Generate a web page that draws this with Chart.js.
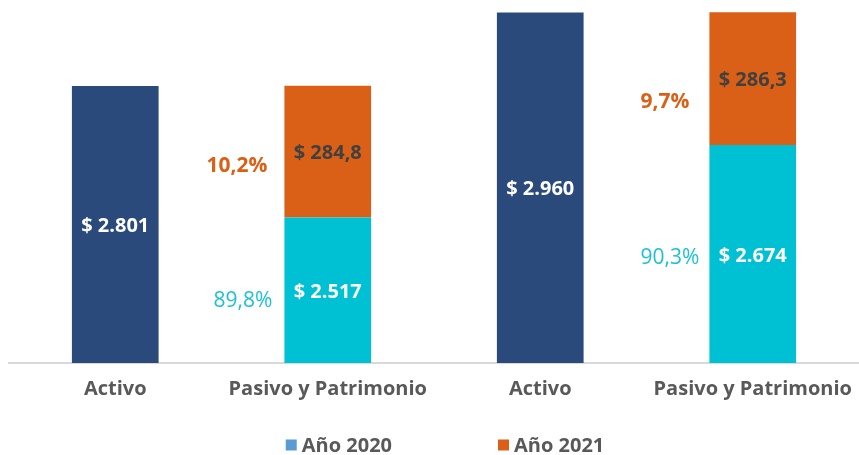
<!DOCTYPE html>
<html>
<head>
<meta charset="utf-8">
<script src="https://cdn.jsdelivr.net/npm/chart.js@4"></script>
<style>
  html, body { margin: 0; padding: 0; background: #ffffff; }
  canvas { display: block; }
</style>
</head>
<body>
<canvas id="balanceChart" width="859" height="455"></canvas>
<script>
// data
var categories = ["Activo", "Pasivo y Patrimonio", "Activo", "Pasivo y Patrimonio"];
var seriesNames = ["Año 2020", "Año 2021"];
var values2020 = [2801, 2517, 2960, 2674];
var values2021 = [null, 284.8, null, 286.3];
var pct2020 = [null, 89.8, null, 90.3];
var pct2021 = [null, 10.2, null, 9.7];

var NAVY = "#2b4a7c";
var CYAN = "#00c1d4";
var ORANGE = "#d96016";
var GREY = "#595959";
var FONT = "'Open Sans', sans-serif";

var barColors2020 = [NAVY, CYAN, NAVY, CYAN];
var legendColors = ["#5b9bd5", ORANGE];

// nudges for the percentage labels (px), same order as the bars
var pctNudge2020 = [null, { gap: 12, dy: 9 }, null, { gap: 10, dy: 2 }];
var pctNudge2021 = [null, { gap: 17, dy: 12 }, null, { gap: 20, dy: 21 }];

function fmtMoney(v) {
  if (v >= 1000) {
    return "$ " + Math.floor(v / 1000) + "." + String(Math.round(v % 1000)).padStart(3, "0");
  }
  return "$ " + v.toFixed(1).replace(".", ",");
}
function fmtPct(v) {
  return v.toFixed(1).replace(".", ",") + "%";
}

var labelsPlugin = {
  id: "barLabels",
  afterDatasetsDraw: function (chart) {
    var ctx = chart.ctx;
    var area = chart.chartArea;
    ctx.save();
    ctx.textBaseline = "middle";
    chart.data.datasets.forEach(function (ds, di) {
      var meta = chart.getDatasetMeta(di);
      meta.data.forEach(function (bar, i) {
        var v = ds.data[i];
        if (v == null) return;
        var top = Math.max(Math.min(bar.y, bar.base), area.top);
        var bottom = Math.min(Math.max(bar.y, bar.base), area.bottom);
        var mid = (top + bottom) / 2 + 2;
        ctx.font = "bold 20px " + FONT;
        ctx.textAlign = "center";
        ctx.fillStyle = di === 0 ? "#ffffff" : "#404040";
        ctx.fillText(fmtMoney(v), bar.x, mid);

        var pct = di === 0 ? pct2020[i] : pct2021[i];
        var nudge = di === 0 ? pctNudge2020[i] : pctNudge2021[i];
        if (pct == null) return;
        var left = bar.x - bar.width / 2;
        ctx.textAlign = "right";
        if (di === 0) {
          ctx.font = "21px " + FONT;
          ctx.fillStyle = "#1fc0d3";
        } else {
          ctx.font = "bold 21px " + FONT;
          ctx.fillStyle = ORANGE;
        }
        ctx.fillText(fmtPct(pct), left - nudge.gap, mid + nudge.dy);
      });
    });
    ctx.restore();
  },
};

var legendPlugin = {
  id: "bottomLegend",
  afterDraw: function (chart) {
    var ctx = chart.ctx;
    var box = 11, textGap = 5, itemGap = 106, centerX = 445;
    var y = chart.height - 9;
    ctx.save();
    ctx.font = "bold 20px " + FONT;
    ctx.textBaseline = "middle";
    ctx.textAlign = "left";
    var widths = seriesNames.map(function (n) {
      return box + textGap + ctx.measureText(n).width;
    });
    var total = widths[0] + widths[1] + itemGap;
    var x = centerX - total / 2;
    seriesNames.forEach(function (name, i) {
      ctx.fillStyle = legendColors[i];
      ctx.fillRect(x, y - box / 2 - 1, box, box);
      ctx.fillStyle = GREY;
      ctx.fillText(name, x + box + textGap, y);
      x += widths[i] + itemGap;
    });
    ctx.restore();
  },
};

var ctx = document.getElementById("balanceChart").getContext("2d");
var balanceChart = new Chart(ctx, {
  type: "bar",
  data: {
    labels: categories,
    datasets: [
      {
        label: seriesNames[0],
        data: values2020,
        backgroundColor: barColors2020,
        borderWidth: 0,
      },
      {
        label: seriesNames[1],
        data: values2021,
        backgroundColor: ORANGE,
        borderWidth: 0,
      },
    ],
  },
  options: {
    responsive: false,
    animation: false,
    devicePixelRatio: 1,
    layout: {
      padding: { left: 9, right: -2, top: 12, bottom: 40 },
    },
    datasets: {
      bar: {
        categoryPercentage: 1,
        barPercentage: 0.408,
      },
    },
    scales: {
      x: {
        stacked: true,
        grid: { display: false, drawTicks: false },
        border: { display: true, color: "#d9d9d9", width: 2 },
        ticks: {
          color: GREY,
          padding: 14,
          maxRotation: 0,
          autoSkip: false,
          font: { family: FONT, size: 20, weight: "bold" },
        },
        afterFit: function (scale) {
          // let the last label sit close to the edge like the original
          scale.paddingLeft = 0;
          scale.paddingRight = 0;
        },
      },
      y: {
        stacked: true,
        display: false,
        min: 2203,
        max: 2961,
      },
    },
    plugins: {
      legend: { display: false },
      tooltip: { enabled: false },
    },
  },
  plugins: [labelsPlugin, legendPlugin],
});
</script>
</body>
</html>
